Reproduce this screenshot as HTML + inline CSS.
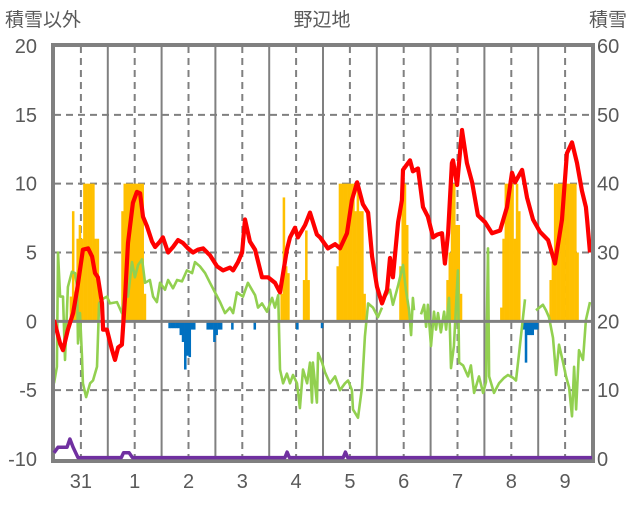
<!DOCTYPE html>
<html><head><meta charset="utf-8">
<style>
body{margin:0;background:#fff;width:636px;height:501px;overflow:hidden}
svg text{font-family:"Liberation Sans","Noto Sans CJK JP",sans-serif;fill:#595959}
</style></head>
<body>
<svg id="chart" width="636" height="501" xmlns="http://www.w3.org/2000/svg">
<text x="5" y="26" font-size="19">積雪以外</text>
<text x="322" y="26" font-size="19" text-anchor="middle">野辺地</text>
<text x="589" y="26" font-size="19">積雪</text>
<g id="grid"></g>
<g id="bars"></g>
<g id="lines"></g>
<g id="axes"></g>
</svg>
<script>
const dayLabels=["31","1","2","3","4","5","6","7","8","9"];
const leftTicks=[20,15,10,5,0,-5,-10];
const rightTicks=[60,50,40,30,20,10,0];
const redHours=[0,2.7,4,6.2,8.5,10.3,12.9,15.2,17,18.3,19.6,21.4,21.9,23.6,25.9,27.2,28.6,30.3,31.7,33,35.2,37,38.4,39.7,41.5,43.7,45.1,47.3,48.6,50.9,53.1,55.3,57.5,59.8,62,64.2,66.5,69.6,72.7,75.4,78.5,79.9,82.1,83.9,85.2,87.4,89.7,92.8,95.5,98.6,100.8,103.9,105.3,107.5,108.8,112,114.2,117.3,118.7,122.2,125.4,127.6,130.7,132.9,135.2,137.8,140.1,141.9,144.1,146.3,148.6,149.9,151.2,153.5,155.2,155.7,158.8,160.1,162.4,164.6,166.8,169.1,170.9,173.1,174.4,175.8,177.5,178,179.8,182,184.2,186.5,189.1,192.3,195.4,199,202.1,204.3,205.7,208.8,211,213.7,216.8,220.4,223.5,226.6,228.8,231.1,233.3,235.5,237.3,237.8,239.1];
const redValues=[0.1,-1.6,-2.1,-0.6,0.6,2.3,5.2,5.3,4.7,3.5,3.2,1.3,-0.6,-0.6,-2.1,-2.8,-1.9,-1.7,1.8,5.7,8.6,9.4,9.3,7.6,6.9,5.8,5.4,5.8,6.1,5,5.4,5.9,5.7,5.3,5,5.2,5.3,4.8,4,3.7,3.9,3.7,4.3,5,7.4,5.8,5.2,3.2,3.2,2.8,2.1,5.2,6.1,6.8,6.1,7,7.9,6.3,6.1,5.3,5.6,5.3,6.4,8.8,10.1,8.5,7.9,4.7,2.5,1.3,2.3,4.6,3.2,7.2,8.8,11,11.7,10.9,11.1,8.3,7.6,6.1,6.3,6.4,4.2,6.4,11.5,11.7,9.9,13.9,11.5,10.1,7.7,7.2,6.4,6.6,8.3,10.8,10.1,11,9,7.4,6.5,5.9,4.2,7.4,12.2,13,11.5,9.5,8.3,7.4,5,5.3];
const greenHours=[0,1.3,1.8,2.7,4,4.9,6.2,8,9.4,10.3,10.7,11.6,12.5,12.9,14.3,16.1,17.4,19.2,20.1,21.4,23.6,25,28.1,30.3,31.7,33,34.8,36.1,37.5,39.3,40.6,42.8,44.2,45.9,47.3,49.5,50.9,53.1,54.9,57.1,59.3,61.6,62.9,65.1,67.4,69.6,71.8,74.1,76.3,78.5,79.9,81.6,84.3,86.5,89.7,91,92.8,95,97.3,98.6,100,100.8,102.2,103.9,105.3,106.6,108.4,109.7,111.1,112.9,114.2,115.1,115.5,117.3,117.8,119.6,120.9,123.1,125.4,127.6,129.8,131.2,132.9,133.4,135.6,137.4,138.7,140.1,142.3,144.5,146.3,147,147.7,149.9,151.2,153.5,155.7,157,158.4,159.3,160.1,160.6,162,163.7,165.1,166,166.8,168.2,169.5,170.4,171.3,172.6,174,174.9,176.2,177.1,178.4,180.2,180.7,182.5,184.7,186,187.4,189.6,191.4,192.7,193.6,194.1,196.3,198.5,200.8,202.5,204.8,206.1,207.5,210.1,212,215,218.1,219.5,220.8,222.6,224,225.3,227.1,228.4,229.8,231.1,232,232.9,234.2,236,237.3,239.1];
const greenValues=[-4.5,-3.3,5.0,1.8,1.8,-2.8,2.5,3.6,3.5,2.5,-1.6,0.6,-2.6,-4.5,-5.5,-4.5,-4.3,-3.3,1.3,1.6,1.8,1.3,1.4,0.6,2.3,1.8,4.3,3.2,4.1,4.5,2.8,3.0,1.8,1.4,2.8,2.3,3.0,2.4,3.0,2.9,3.7,3.5,4.3,4.0,3.5,2.8,2.1,1.4,0.6,1.0,0.6,2.1,1.8,2.8,1.9,1.0,1.3,0.7,1.7,1.0,1.9,-3.5,-4.5,-3.8,-4.5,-3.9,-4.5,-6.3,-3.5,-4.5,-3.0,-5.9,-3.0,-5.9,-2.3,-3.0,-3.7,-4.5,-4.0,-5.0,-4.5,-4.3,-5.0,-6.4,-7.0,-4.8,-1.1,1.3,1.0,0.3,1.0,null,1.8,2.3,1.2,2.6,4.1,2.3,0.8,-1.0,1.7,0.8,null,0.5,1.2,-0.4,1.2,-1.8,0.7,-0.6,0.6,-0.8,0.7,-0.6,1.7,-3.4,-1.8,3.7,-3.0,-3.2,-4.0,-3.2,-5.2,-4.0,-5.2,-4.4,5.3,-4.0,-5.2,-4.5,-4.1,-3.9,-4.1,-4.3,-2.3,1.6,null,0.8,1.2,0.8,0.3,-1.2,-3.9,-1.7,-3.0,-4.0,-4.8,-6.9,-3.3,-6.4,-2.1,-2.8,0.1,1.4];
const orangeHours=[7,8,9,10,11,12,13,14,15,16,17,18,19,30,31,32,33,34,35,36,37,38,39,40,101,102,103,104,111,112,113,126,127,128,129,130,131,132,133,134,135,136,137,138,154,155,156,157,175,176,177,178,179,180,181,199,200,201,202,203,204,205,206,207,221,222,223,224,225,226,227,228,229,230,231,232,233];
const orangeValues=[1.8,8,2,6,7,6,10,10,10,10,10,6,6,8,10,10,10,10,10,10,10,10,10,2,2,9,4,3.5,3,6.6,3,4,10,10,10,10,10,10,10,8,10,8,8,2,4,10,10,7,3,5,10,10,7,7,2,1,6,10,10,10,10,6,10,8,3,5,10,10,10,10,10,10,10,10,10,10,5];
const blueHours=[51,52,53,54,55,56,57,58,59,60,61,62,68,69,70,71,72,73,74,79,89,108,119,209,210,211,212,213,214,215];
const blueValues=[-0.5,-0.5,-0.5,-0.5,-0.5,-1,-1.5,-3.5,-2.5,-2.6,-0.6,-0.6,-0.6,-0.6,-0.6,-1.5,-1,-0.6,-0.6,-0.6,-0.6,-0.6,-0.5,-0.6,-3,-1,-1,-1,-0.6,-0.6];
const purpleHours=[0,1.8,5.8,7.1,8.5,10.7,30,31,33.5,35,103,104,105,129,130,131,240];
const purpleValues=[0.9,1.7,1.7,2.9,1.7,0.2,0.2,0.9,0.9,0.2,0.2,1,0.2,0.2,1,0.2,0.2];

const X0=54,X1=592,YT=46,YB=459;
const x=h=>X0+h*(X1-X0)/240;
const yL=v=>YB-(v+10)*(YB-YT)/30;
const yR=v=>YB-v*(YB-YT)/60;
const NS="http://www.w3.org/2000/svg";
function mk(tag,parent,attrs){const e=document.createElementNS(NS,tag);for(const k in attrs)e.setAttribute(k,attrs[k]);parent.appendChild(e);return e;}
const grid=document.getElementById('grid'),bars=document.getElementById('bars'),lines=document.getElementById('lines'),axes=document.getElementById('axes');

leftTicks.forEach(v=>{if(v===20||v===-10||v===0)return;
 const l=mk('line',grid,{x1:X0,x2:X1,y1:yL(v),y2:yL(v),stroke:'#808080','stroke-width':2,'stroke-dasharray':'7,5'});
 
 });
for(let d=0;d<10;d++){
 const dl=mk('line',grid,{x1:x(d*24+12),x2:x(d*24+12),y1:YT,y2:YB,stroke:'#808080','stroke-width':2,'stroke-dasharray':'7,5'});
 
 
 if(d>0){const sl=mk('line',grid,{x1:x(d*24),x2:x(d*24),y1:YT,y2:YB,stroke:'#808080','stroke-width':2});
 
 }
 const t=mk('text',axes,{x:x(d*24+12),y:488,'font-size':20,'text-anchor':'middle'});t.textContent=dayLabels[d];
 
 
}
const bw=(X1-X0)/240;
orangeHours.forEach((h,i)=>{const v=orangeValues[i];
 const r=mk('rect',bars,{x:x(h),y:yL(v),width:bw+0.3,height:yL(0)-yL(v),fill:'#ffc000'});
 
 });
blueHours.forEach((h,i)=>{const v=blueValues[i];
 const r=mk('rect',bars,{x:x(h),y:yL(0),width:bw+0.3,height:yL(v)-yL(0),fill:'#0070c0'});
 
 });
function path(hs,vs,yf){let d='',pen=false;hs.forEach((h,i)=>{const v=vs[i];if(v===null){pen=false;return;}d+=(pen?'L':'M')+x(h).toFixed(1)+','+yf(v).toFixed(1);pen=true;});return d;}
const g=mk('path',lines,{d:path(greenHours,greenValues,yL),fill:'none',stroke:'#92d050','stroke-width':2.6,'stroke-linejoin':'round'});


const zl=mk('line',lines,{x1:X0,x2:X1,y1:yL(0),y2:yL(0),stroke:'#808080','stroke-width':3});


const rd=mk('path',lines,{d:path(redHours,redValues,yL),fill:'none',stroke:'#ff0000','stroke-width':4.2,'stroke-linejoin':'round'});


const fr=mk('rect',lines,{x:X0-1,y:YT-1,width:X1-X0+2,height:YB-YT+3,fill:'none',stroke:'#808080','stroke-width':4});


const pp=mk('path',lines,{d:path(purpleHours,purpleValues,yR),fill:'none',stroke:'#7030a0','stroke-width':3.5,'stroke-linejoin':'round'});


leftTicks.forEach(v=>{const t=mk('text',lines,{x:37,y:yL(v)+7,'font-size':20,'text-anchor':'end'});t.textContent=v;
 
 });
rightTicks.forEach(v=>{const t=mk('text',lines,{x:597,y:yR(v)+7,'font-size':20});t.textContent=v;
 
 });
</script>
</body></html>
